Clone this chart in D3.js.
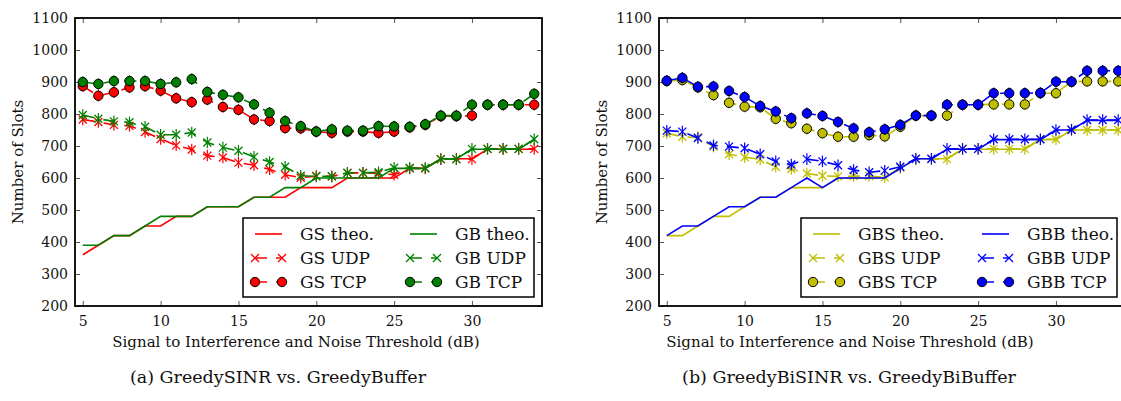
<!DOCTYPE html>
<html>
<head>
<meta charset="utf-8">
<script src="https://cdn.jsdelivr.net/npm/d3@7"></script>
<style>
  body { margin: 0; background: #fff; }
  text { font-family: "DejaVu Serif", serif; fill: #111; }
</style>
</head>
<body>
<svg id="chart" width="1121" height="401"></svg>
<script>
// SINR threshold (dB)
const sinr = [5, 6, 7, 8, 9, 10, 11, 12, 13, 14, 15, 16, 17, 18, 19, 20,
  21, 22, 23, 24, 25, 26, 27, 28, 29, 30, 31, 32, 33, 34];

// (a) GreedySINR / GreedyBuffer
const gsTheo = [360, 390, 420, 420, 450, 450, 480, 480, 510, 510, 510, 540, 540, 540, 570,
  570, 570, 600, 600, 600, 600, 630, 630, 660, 660, 660, 690, 690, 690, 690];
const gsUdp = [783, 775, 766, 763, 744, 722, 702, 689, 670, 664, 648, 640, 627, 610, 601,
  606, 605, 616, 616, 614, 610, 630, 630, 659, 659, 659, 691, 691, 691, 691];
const gsTcp = [887, 857, 868, 883, 887, 873, 849, 837, 845, 822, 813, 783, 778, 756, 755,
  745, 741, 745, 745, 741, 745, 758, 766, 793, 793, 795, 829, 829, 829, 829];
const gbTheo = [390, 390, 420, 420, 450, 480, 480, 480, 510, 510, 510, 540, 540, 570, 570,
  600, 600, 600, 600, 600, 630, 630, 630, 660, 660, 690, 690, 690, 690, 720];
const gbUdp = [797, 785, 777, 774, 760, 735, 735, 742, 711, 695, 685, 666, 650, 635, 607,
  605, 605, 616, 616, 618, 632, 631, 631, 659, 659, 691, 691, 691, 691, 721];
const gbTcp = [900, 894, 903, 903, 903, 894, 899, 909, 869, 860, 852, 830, 804, 778, 762,
  745, 752, 748, 748, 762, 761, 760, 768, 795, 795, 829, 829, 829, 829, 863];

// (b) GreedyBiSINR / GreedyBiBuffer
const gbsTheo = [420, 420, 450, 480, 480, 510, 540, 540, 570, 570, 570, 600, 600, 600, 600,
  630, 660, 660, 660, 690, 690, 690, 690, 690, 720, 720, 750, 750, 750, 750];
const gbsUdp = [740, 729, 727, 698, 674, 665, 658, 635, 628, 614, 607, 605, 606, 606, 602,
  632, 659, 659, 659, 691, 691, 691, 691, 691, 721, 721, 750, 750, 750, 750];
const gbsTcp = [903, 906, 883, 859, 835, 823, 821, 785, 771, 754, 740, 729, 729, 734, 730,
  760, 795, 795, 795, 829, 829, 830, 830, 830, 865, 865, 901, 902, 902, 902];
const gbbTheo = [420, 450, 450, 480, 510, 510, 540, 540, 570, 600, 570, 600, 600, 600, 600,
  630, 660, 660, 690, 690, 690, 720, 720, 720, 720, 750, 750, 780, 780, 780];
const gbbUdp = [748, 745, 725, 702, 698, 693, 674, 652, 642, 659, 652, 640, 625, 618, 623,
  635, 660, 660, 691, 691, 691, 721, 721, 721, 721, 750, 751, 781, 781, 781];
const gbbTcp = [904, 913, 885, 886, 872, 853, 825, 808, 787, 802, 794, 775, 755, 743, 752,
  766, 795, 795, 829, 829, 829, 865, 865, 865, 866, 901, 901, 935, 935, 935];

const xTicks = [5, 10, 15, 20, 25, 30];
const yTicks = [200, 300, 400, 500, 600, 700, 800, 900, 1000, 1100];
const errHalf = 18; // half height of the small error bars

const red = '#ff0000', green = '#008000', olive = '#bfbf00', blue = '#0000ff';
const dash = '12,9';

const panels = [
  {
    left: 75, right: 542,
    caption: '(a) GreedySINR vs. GreedyBuffer', captionX: 278, xLabelX: 296,
    legend: { x: 243, w: 291, col2: 167 },
    series: [
      { name: 'GS theo.', values: gsTheo, color: red, kind: 'theo' },
      { name: 'GS UDP', values: gsUdp, color: red, kind: 'udp' },
      { name: 'GS TCP', values: gsTcp, color: red, kind: 'tcp' },
      { name: 'GB theo.', values: gbTheo, color: green, kind: 'theo' },
      { name: 'GB UDP', values: gbUdp, color: green, kind: 'udp' },
      { name: 'GB TCP', values: gbTcp, color: green, kind: 'tcp' },
    ],
  },
  {
    left: 659, right: 1126,
    caption: '(b) GreedyBiSINR vs. GreedyBiBuffer', captionX: 849, xLabelX: 850,
    legend: { x: 801, w: 316, col2: 181 },
    series: [
      { name: 'GBS theo.', values: gbsTheo, color: olive, kind: 'theo' },
      { name: 'GBS UDP', values: gbsUdp, color: olive, kind: 'udp' },
      { name: 'GBS TCP', values: gbsTcp, color: olive, kind: 'tcp' },
      { name: 'GBB theo.', values: gbbTheo, color: blue, kind: 'theo' },
      { name: 'GBB UDP', values: gbbUdp, color: blue, kind: 'udp' },
      { name: 'GBB TCP', values: gbbTcp, color: blue, kind: 'tcp' },
    ],
  },
];

const plotTop = 18;
const plotBottom = 306;
const svg = d3.select('#chart');

const drawMarker = (g, kind, color, x, y) => {
  if (kind === 'udp') {
    const s = 4;
    g.append('path')
      .attr('d', `M${x - s},${y - s}L${x + s},${y + s}M${x - s},${y + s}L${x + s},${y - s}`)
      .attr('stroke', color)
      .attr('stroke-width', 1.3)
      .attr('fill', 'none');
  } else if (kind === 'tcp') {
    g.append('circle')
      .attr('cx', x).attr('cy', y).attr('r', 4.7)
      .attr('fill', color)
      .attr('stroke', '#000')
      .attr('stroke-width', 1);
  }
};

const drawPanel = (p, idx) => {
  const xScale = d3.scaleLinear().domain([4.5, 34.5]).range([p.left, p.right]);
  const yScale = d3.scaleLinear().domain([200, 1100]).range([plotBottom, plotTop]);
  const g = svg.append('g');

  g.append('clipPath').attr('id', 'clip' + idx)
    .append('rect')
    .attr('x', p.left).attr('y', plotTop)
    .attr('width', p.right - p.left).attr('height', plotBottom - plotTop);

  // axes, ticks pointing inward
  const fmt = d3.format('d');
  const gx = g.append('g').attr('transform', `translate(0,${plotBottom})`)
    .call(d3.axisBottom(xScale).tickValues(xTicks).tickSize(-5).tickPadding(10).tickFormat(fmt));
  const gxt = g.append('g').attr('transform', `translate(0,${plotTop})`)
    .call(d3.axisTop(xScale).tickValues(xTicks).tickSize(-5).tickFormat(''));
  const gy = g.append('g').attr('transform', `translate(${p.left},0)`)
    .call(d3.axisLeft(yScale).tickValues(yTicks).tickSize(-5).tickPadding(7).tickFormat(fmt));
  const gyr = g.append('g').attr('transform', `translate(${p.right},0)`)
    .call(d3.axisRight(yScale).tickValues(yTicks).tickSize(-5).tickFormat(''));
  [gx, gxt, gy, gyr].forEach((a) => {
    a.select('.domain').remove();
    a.selectAll('.tick line').attr('stroke', '#555').attr('stroke-width', 1);
    a.selectAll('.tick text').style('font-family', '"DejaVu Serif", serif')
      .style('font-size', '14px').attr('fill', '#111');
  });

  // data
  const plot = g.append('g').attr('clip-path', `url(#clip${idx})`);
  const line = d3.line().x((d, i) => xScale(sinr[i])).y(d => yScale(d));
  p.series.forEach((s) => {
    plot.append('path')
      .datum(s.values)
      .attr('d', line)
      .attr('fill', 'none')
      .attr('stroke', s.color)
      .attr('stroke-width', 1.6)
      .attr('stroke-dasharray', s.kind === 'theo' ? null : dash);
    if (s.kind === 'theo') return;
    s.values.forEach((v, i) => {
      const x = xScale(sinr[i]);
      plot.append('line')
        .attr('x1', x).attr('x2', x)
        .attr('y1', yScale(v - errHalf)).attr('y2', yScale(v + errHalf))
        .attr('stroke', s.color).attr('stroke-width', 1.2);
      drawMarker(plot, s.kind, s.color, x, yScale(v));
    });
  });

  // frame
  g.append('rect')
    .attr('x', p.left).attr('y', plotTop)
    .attr('width', p.right - p.left).attr('height', plotBottom - plotTop)
    .attr('fill', 'none').attr('stroke', '#000').attr('stroke-width', 1.8);

  // legend, filled column by column
  const lg = g.append('g');
  lg.append('rect')
    .attr('x', p.legend.x).attr('y', 218)
    .attr('width', p.legend.w).attr('height', 79)
    .attr('fill', '#fff').attr('stroke', '#000').attr('stroke-width', 1.5);
  const rowY = [234, 258, 282];
  p.series.forEach((s, i) => {
    const col = Math.floor(i / 3);
    const x0 = p.legend.x + (col ? p.legend.col2 : 12);
    const x1 = x0 + 27;
    const y = rowY[i % 3];
    lg.append('line')
      .attr('x1', x0).attr('x2', x1).attr('y1', y).attr('y2', y)
      .attr('stroke', s.color).attr('stroke-width', 1.6)
      .attr('stroke-dasharray', s.kind === 'theo' ? null : dash);
    if (s.kind !== 'theo') {
      drawMarker(lg, s.kind, s.color, x0, y);
      drawMarker(lg, s.kind, s.color, x1, y);
    }
    lg.append('text')
      .attr('x', x0 + 45).attr('y', y + 6)
      .style('font-size', '17px')
      .text(s.name);
  });

  // labels
  g.append('text')
    .attr('x', p.xLabelX).attr('y', 347)
    .attr('text-anchor', 'middle')
    .style('font-size', '15px')
    .text('Signal to Interference and Noise Threshold (dB)');
  g.append('text')
    .attr('transform', `translate(${p.left - 52},${(plotTop + plotBottom) / 2}) rotate(-90)`)
    .attr('text-anchor', 'middle')
    .style('font-size', '15px')
    .text('Number of Slots');
  g.append('text')
    .attr('x', p.captionX).attr('y', 383)
    .attr('text-anchor', 'middle')
    .style('font-size', '17.5px')
    .text(p.caption);
};

panels.forEach(drawPanel);
</script>
</body>
</html>
